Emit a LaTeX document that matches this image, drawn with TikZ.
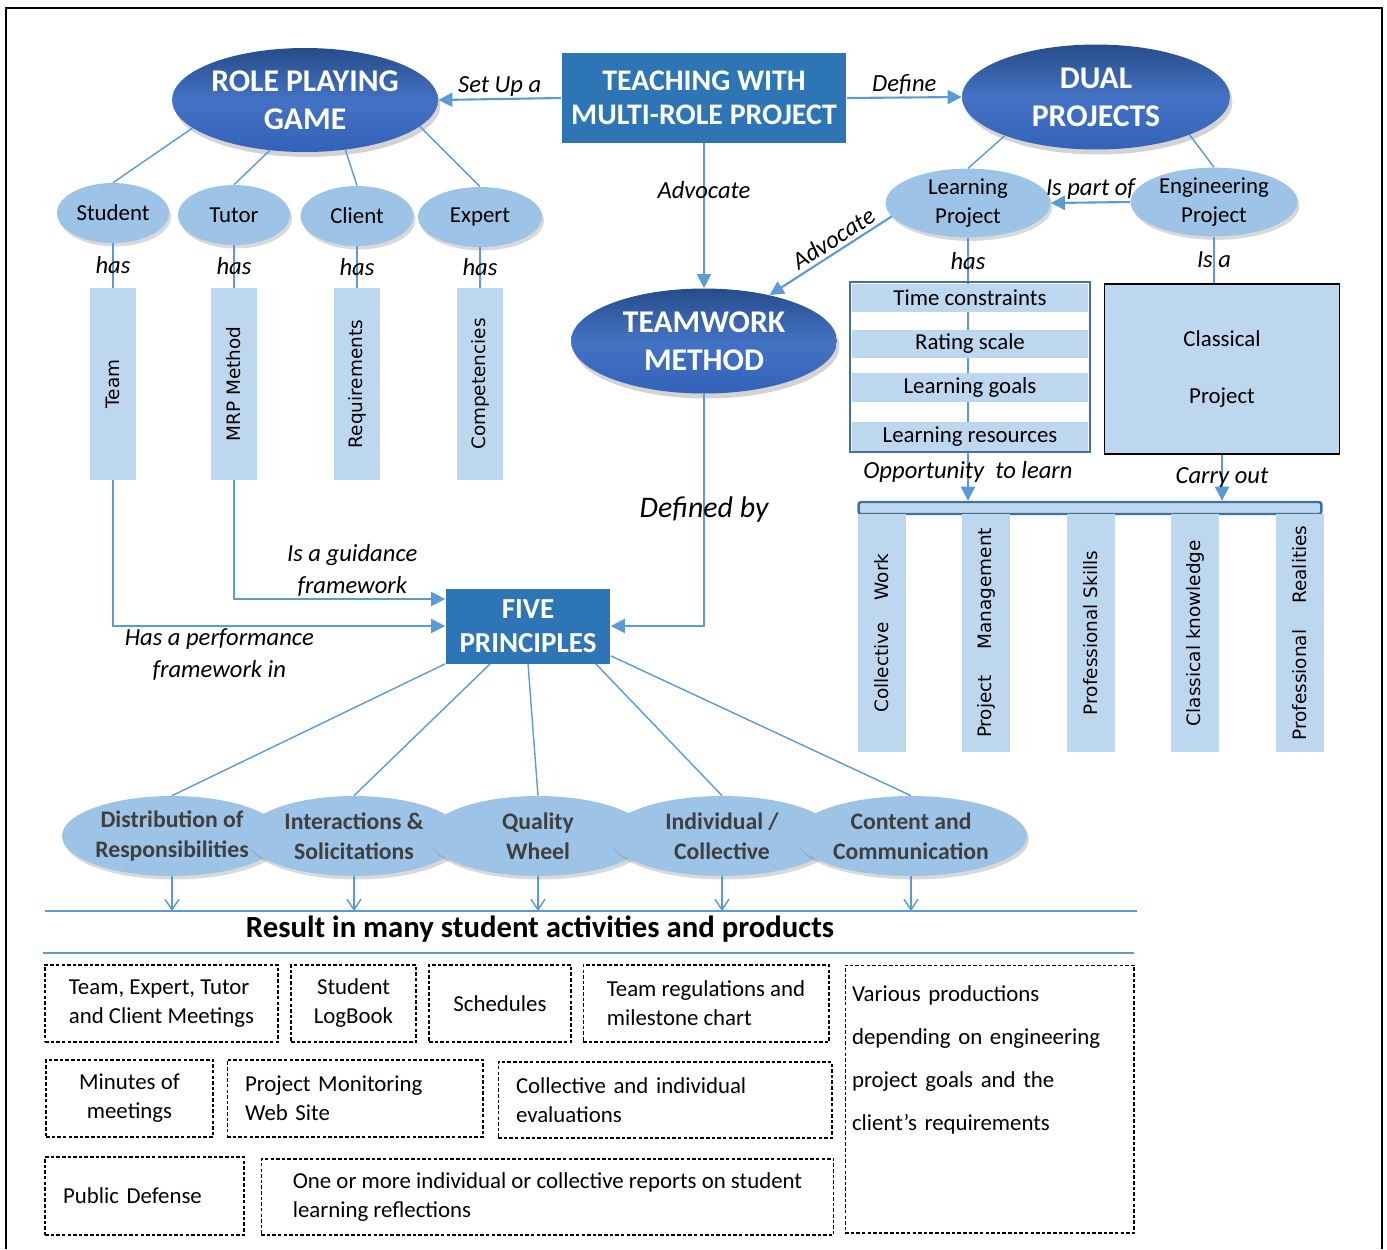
\documentclass[tikz,border=0pt]{standalone}
\usepackage{fontspec}
\setmainfont{Carlito}
\newfontfamily\vertfont{DejaVu Sans}
\usetikzlibrary{shapes.geometric,arrows.meta,shadows,backgrounds}

\definecolor{deepblue}{HTML}{264D8A}
\definecolor{midblue}{HTML}{4472C4}
\definecolor{lowblue}{HTML}{3462B8}
\definecolor{boxblue}{HTML}{2E75B6}
\definecolor{ovalblue}{HTML}{9DC3E6}
\definecolor{paleblue}{HTML}{BDD7EE}
\definecolor{linkblue}{HTML}{5B9BD5}
\definecolor{edgeblue}{HTML}{41719C}
\definecolor{inkgray}{HTML}{3F3F3F}

\tikzset{
    bigoval/.style={ellipse, inner sep=0pt, top color=deepblue, bottom color=lowblue, middle color=midblue,
        text=white, align=center, font=\fontsize{18}{21.6}\selectfont\bfseries,
        drop shadow={shadow xshift=0.05cm, shadow yshift=-0.1cm, opacity=0.35}},
    headbox/.style={rectangle, inner sep=0pt, fill=boxblue, text=white, align=center},
    roleoval/.style={ellipse, inner sep=0pt, fill=ovalblue, align=center,
        font=\fontsize{13}{16.5}\selectfont,
        drop shadow={shadow xshift=0.04cm, shadow yshift=-0.07cm, opacity=0.3}},
    princoval/.style={roleoval, text=inkgray, minimum height=1.6cm, font=\fontsize{13.5}{17}\selectfont\bfseries},
    hasbar/.style={rectangle, inner sep=0pt, fill=paleblue, rotate=90, font=\vertfont\fontsize{10.5}{12}\selectfont},
    conn/.style={draw=linkblue, line width=1.2pt},
    thinconn/.style={draw=linkblue, line width=0.8pt},
    arrowtip/.style={-{Triangle[length=8pt,width=8pt]}},
    linktext/.style={inner sep=1pt, align=center, font=\itshape\fontsize{14}{18}\selectfont},
    dbox/.style={rectangle, draw, dash pattern=on 2pt off 1.2pt, line width=0.6pt, inner sep=0pt,
        font=\fontsize{13}{16.5}\selectfont}
}

\begin{document}
\begin{tikzpicture}[x=0.02cm, y=-0.02cm]
    \useasboundingbox (0,0) rectangle (1387,1249);
    \draw[line width=1.2pt] (6,1249) -- (6,8) -- (1382,8) -- (1382,1249);

    \node[bigoval, minimum width=5.32cm, minimum height=2.08cm] (rpg) at (305,100) {ROLE PLAYING\\GAME};
    \node[headbox, minimum width=5.7cm, minimum height=1.8cm, font=\fontsize{17}{19.5}\selectfont\bfseries] (teach) at (704,98) {TEACHING WITH\\MULTI-ROLE PROJECT};
    \node[bigoval, minimum width=5.36cm, minimum height=2.1cm] (dual) at (1096,97) {DUAL\\PROJECTS};
    \node[bigoval, minimum width=5.32cm, minimum height=2.1cm] (tw) at (704,341) {TEAMWORK\\METHOD};

    \foreach \x/\y/\w/\nm/\txt in {113/213/2.24/stu/Student, 234/215/2.24/tut/Tutor, 357/216/2.26/cli/Client, 480/217/2.48/exp/Expert}
        \node[roleoval, minimum width=\w cm, minimum height=1.2cm] (\nm) at (\x,\y) {\txt};
    \foreach \a/\nm in {194/stu, 235/tut, 309/cli, 347/exp}
        \draw[thinconn] (rpg.\a) -- (\nm.north);
    \foreach \x/\nm/\txt in {113/team/Team, 234/mrp/MRP Method, 357/req/Requirements, 480/comp/Competencies}
        \node[hasbar, minimum width=3.84cm, minimum height=0.94cm] (\nm) at (\x,384) {\txt};
    \foreach \o/\b in {stu/team, tut/mrp, cli/req, exp/comp}
        \draw[thinconn] (\o.south) -- (\b.east) node[linktext, midway] {has};

    \draw[conn, arrowtip] (teach.west) -- (rpg.east) node[linktext, midway, above] {Set Up a};
    \draw[conn, arrowtip] (teach.east) -- (dual.west) node[linktext, midway, above] {Define};
    \draw[conn, arrowtip] (teach.south) -- (tw.north) node[linktext, pos=0.32] {Advocate};

    \node[roleoval, minimum width=3.3cm, minimum height=1.32cm] (learn) at (968,203) {Learning\\Project};
    \node[roleoval, minimum width=3.34cm, minimum height=1.36cm] (eng) at (1214,202) {Engineering\\Project};
    \draw[thinconn] (dual.203) -- (learn.north);
    \draw[thinconn] (dual.338) -- (eng.north);
    \draw[conn, arrowtip] (eng.west) -- (learn.east) node[linktext, midway, above] {Is part of};
    \draw[conn, arrowtip] (learn.190) -- (tw.35) node[linktext, pos=0.42, sloped, above=1pt] {Advocate};

    \foreach \y/\h/\nm/\txt in {298/0.56/ftime/Time constraints, 344/0.56/frate/Rating scale, 387.5/0.58/fgoal/Learning goals, 437/0.6/fres/Learning resources}
        \node[rectangle, fill=paleblue, minimum width=4.72cm, minimum height=\h cm, inner sep=0pt, font=\fontsize{13}{15}\selectfont] (\nm) at (970,\y) {\txt};
    \node[rectangle, draw=edgeblue, line width=1.4pt, minimum width=4.8cm, minimum height=3.4cm] (feat) at (970,367) {};
    \node[rectangle, fill=paleblue, draw=black, line width=1pt, minimum width=4.7cm, minimum height=3.4cm, align=center, font=\fontsize{13}{32}\selectfont] (cls) at (1222,369) {Classical\\Project};
    \node[rectangle, fill=paleblue, draw=edgeblue, line width=1.4pt, rounded corners=1.5pt, minimum width=9.26cm, minimum height=0.24cm, inner sep=0pt] (bar) at (1090,508) {};
    \begin{scope}[on background layer]
        \draw[conn, arrowtip] (learn.south) -- (learn.south |- bar.north) node[linktext, pos=0.09] {has} node[linktext, pos=0.89] {Opportunity~~to learn};
    \end{scope}
    \draw[thinconn] (eng.south) -- (eng.south |- cls.north) node[linktext, midway] {Is a};
    \draw[conn, arrowtip] (cls.south) -- (cls.south |- bar.north) node[linktext, midway] {Carry out};

    \foreach \x/\nm/\txt in {882/bcol/{\makebox[3.18cm][s]{Collective Work}}, 986/bpro/{\makebox[4.2cm][s]{Project Management}}, 1091/bski/Professional Skills, 1195/bcla/Classical knowledge, 1300/brea/{\makebox[4.3cm][s]{Professional Realities}}}
        \node[hasbar, minimum width=4.76cm, minimum height=0.96cm] (\nm) at (\x,633) {\txt};

    \node[headbox, minimum width=3.3cm, minimum height=1.5cm, font=\fontsize{16.5}{19}\selectfont\bfseries] (five) at (528,626) {FIVE\\PRINCIPLES};
    \draw[conn, arrowtip] (tw.south) |- (five.east) node[pos=0.25, font=\itshape\fontsize{17}{20}\selectfont] {Defined by};
    \draw[conn, arrowtip] (mrp.west) |- ([yshift=0.54cm]five.west) node[linktext, pos=0.78, above] {Is a guidance\\framework};
    \draw[conn, arrowtip] (team.west) |- (five.west) node[linktext, pos=0.66, below] {Has a performance\\framework in};

    \foreach \x/\w/\nm/\txt in {172/4.4/pa/{Distribution of\\Responsibilities}, 354/4.34/pb/{Interactions \&\\Solicitations}, 538/4.4/pc/{Quality\\Wheel}, 722/4.54/pd/{Individual /\\Collective}, 911/4.64/pe/{Content and\\Communication}}
        \node[princoval, minimum width=\w cm] (\nm) at (\x,836) {\txt};
    \draw[thinconn] (five.south west) -- (pa.north);
    \draw[thinconn] ([xshift=0.9cm]five.south west) -- (pb.north);
    \draw[thinconn] (five.south) -- (pc.north);
    \draw[thinconn] ([xshift=-0.3cm]five.south east) -- (pd.north);
    \draw[thinconn] ([yshift=0.16cm]five.south east) -- (pe.north);

    \coordinate (resl) at (45,911);
    \coordinate (resr) at (1137,911);
    \foreach \nm in {pa,pb,pc,pd,pe}
        \draw[thinconn, -{Straight Barb[length=6pt,width=8pt]}] (\nm.south) -- (\nm.south |- resl);
    \draw[linkblue, line width=1.6pt] (resl) -- (resr);
    \node[font=\fontsize{17.5}{21}\selectfont\bfseries] (res) at (540,929) {Result in many student activities and products};
    \coordinate (lowl) at (43,953);
    \coordinate (lowr) at (1134,953);
    \draw[linkblue, line width=1.6pt] (lowl) -- (lowr);

    \node[dbox, minimum width=4.66cm, minimum height=1.54cm, align=left] (meet) at (161.5,1003.5) {Team, Expert, Tutor\\and Client Meetings};
    \node[dbox, minimum width=2.5cm, minimum height=1.54cm, align=center] (logb) at (353.5,1003.5) {Student\\LogBook};
    \node[dbox, minimum width=2.84cm, minimum height=1.54cm] (sched) at (500,1003.5) {Schedules};
    \node[dbox, minimum width=4.92cm, minimum height=1.54cm, align=left] (regs) at (706,1003.5) {Team regulations and\\milestone chart};
    \node[dbox, minimum width=5.78cm, minimum height=5.36cm, text width=5.5cm, align=left, font=\fontsize{13}{24.5}\selectfont] (prod) at (989.5,1099) {Various productions\\depending on engineering\\project goals and the\\client’s requirements\\[0.78cm]\mbox{}};
    \node[dbox, minimum width=3.34cm, minimum height=1.54cm, align=center] (mins) at (129.5,1098.5) {Minutes of\\meetings};
    \node[dbox, minimum width=5.12cm, minimum height=1.54cm, text width=4.4cm, align=left] (webs) at (355,1098.5) {Project Monitoring\\Web Site};
    \node[dbox, minimum width=6.68cm, minimum height=1.52cm, text width=5.96cm, align=left] (evals) at (665,1100) {Collective and individual\\evaluations};
    \node[dbox, minimum width=3.98cm, minimum height=1.56cm, text width=3.26cm, align=left] (defn) at (144.5,1196) {Public Defense};
    \node[dbox, minimum width=11.46cm, minimum height=1.52cm, align=left] (reps) at (547.5,1197) {One or more individual or collective reports on student\\learning reflections};
\end{tikzpicture}
\end{document}
